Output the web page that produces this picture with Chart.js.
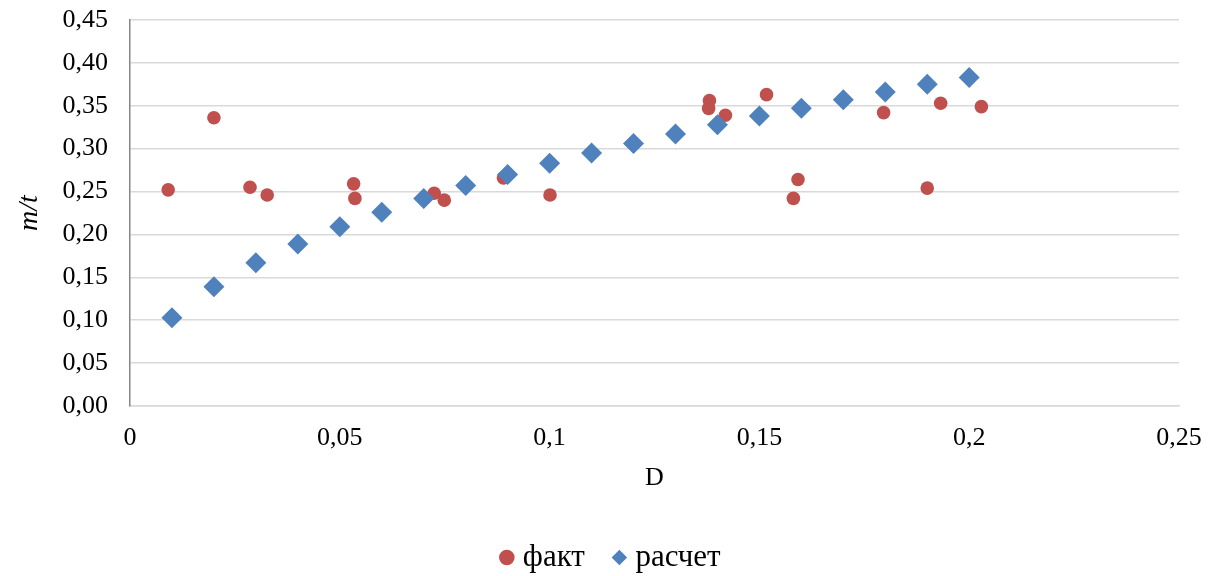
<!DOCTYPE html>
<html>
<head>
<meta charset="utf-8">
<script src="https://cdn.jsdelivr.net/npm/chart.js@4/dist/chart.umd.min.js"></script>
<style>
  html, body { margin: 0; padding: 0; background: #fff; }
  #wrap { width: 1208px; height: 576px; }
</style>
</head>
<body>
<div id="wrap"><canvas id="c" width="1208" height="576"></canvas></div>
<script>
// ---- data ----
const factX = [0.0091, 0.0200, 0.0286, 0.0327, 0.0533, 0.0536, 0.0725, 0.0749, 0.0890, 0.1001,
               0.1381, 0.1379, 0.1419, 0.1517, 0.1592, 0.1581, 0.1796, 0.1900, 0.1932, 0.2029];
const factY = [0.252, 0.336, 0.255, 0.246, 0.259, 0.242, 0.248, 0.240, 0.266, 0.246,
               0.356, 0.347, 0.339, 0.363, 0.264, 0.242, 0.342, 0.254, 0.353, 0.349];
const calcX = [0.01, 0.02, 0.03, 0.04, 0.05, 0.06, 0.07, 0.08, 0.09, 0.10,
               0.11, 0.12, 0.13, 0.14, 0.15, 0.16, 0.17, 0.18, 0.19, 0.20];
const calcY = [0.103, 0.139, 0.167, 0.189, 0.209, 0.226, 0.242, 0.257, 0.270, 0.283,
               0.295, 0.306, 0.317, 0.328, 0.338, 0.347, 0.357, 0.366, 0.375, 0.383];
const seriesNames = ['факт', 'расчет'];
const xTitle = 'D';
const yTitle = 'm/t';

const toPts = (xs, ys) => xs.map((x, i) => ({ x: x, y: ys[i] }));
const FONT = "'Liberation Serif', 'Times New Roman', serif";

new Chart(document.getElementById('c'), {
  type: 'scatter',
  data: {
    datasets: [
      {
        label: seriesNames[1],
        data: toPts(calcX, calcY),
        pointStyle: 'rectRot',
        pointRadius: 10.5,
        pointHoverRadius: 10.5,
        backgroundColor: '#4F81BD',
        borderColor: '#4F81BD',
        borderWidth: 0
      },
      {
        label: seriesNames[0],
        data: toPts(factX, factY),
        pointStyle: 'circle',
        pointRadius: 6.8,
        pointHoverRadius: 6.8,
        backgroundColor: '#C0504D',
        borderColor: '#C0504D',
        borderWidth: 0
      }
    ]
  },
  options: {
    responsive: false,
    animation: false,
    layout: { padding: { left: 48, right: 29, top: 20, bottom: -7 } },
    plugins: {
      tooltip: { enabled: false },
      legend: {
        position: 'bottom',
        labels: {
          usePointStyle: true,
          boxWidth: 1,
          boxHeight: 11,
          padding: 34,
          color: '#000',
          font: { family: FONT, size: 31 },
          sort: (a, b) => b.datasetIndex - a.datasetIndex
        }
      }
    },
    scales: {
      x: {
        type: 'linear',
        min: 0, max: 0.25,
        ticks: {
          stepSize: 0.05,
          padding: 0,
          color: '#000',
          font: { family: FONT, size: 26 },
          callback: v => String(Math.round(v * 100) / 100).replace('.', ',')
        },
        grid: { display: true, color: 'rgba(0,0,0,0)', drawTicks: true, tickLength: 17, tickColor: 'rgba(0,0,0,0)' },
        border: { display: true, color: '#d9d9d9', width: 1.5 },
        title: {
          display: true, text: xTitle, color: '#000',
          font: { family: FONT, size: 26 },
          padding: { top: 0, bottom: 14 }
        },
        afterFit: s => { s.height = 102; }
      },
      y: {
        type: 'linear',
        min: 0, max: 0.45,
        ticks: {
          stepSize: 0.05,
          padding: 0,
          color: '#000',
          font: { family: FONT, size: 26 },
          callback: v => (Math.round(v * 100) / 100).toFixed(2).replace('.', ',')
        },
        grid: { color: '#d9d9d9', lineWidth: 1.5, drawTicks: true, tickLength: 22, tickColor: 'rgba(0,0,0,0)' },
        border: { display: true, color: '#868686', width: 1.5 },
        title: {
          display: true, text: yTitle, color: '#000',
          font: { family: FONT, size: 28, style: 'italic' },
          padding: { top: -35, bottom: 0 }
        },
        afterFit: s => { s.width = 82; }
      }
    }
  }
});
</script>
</body>
</html>
